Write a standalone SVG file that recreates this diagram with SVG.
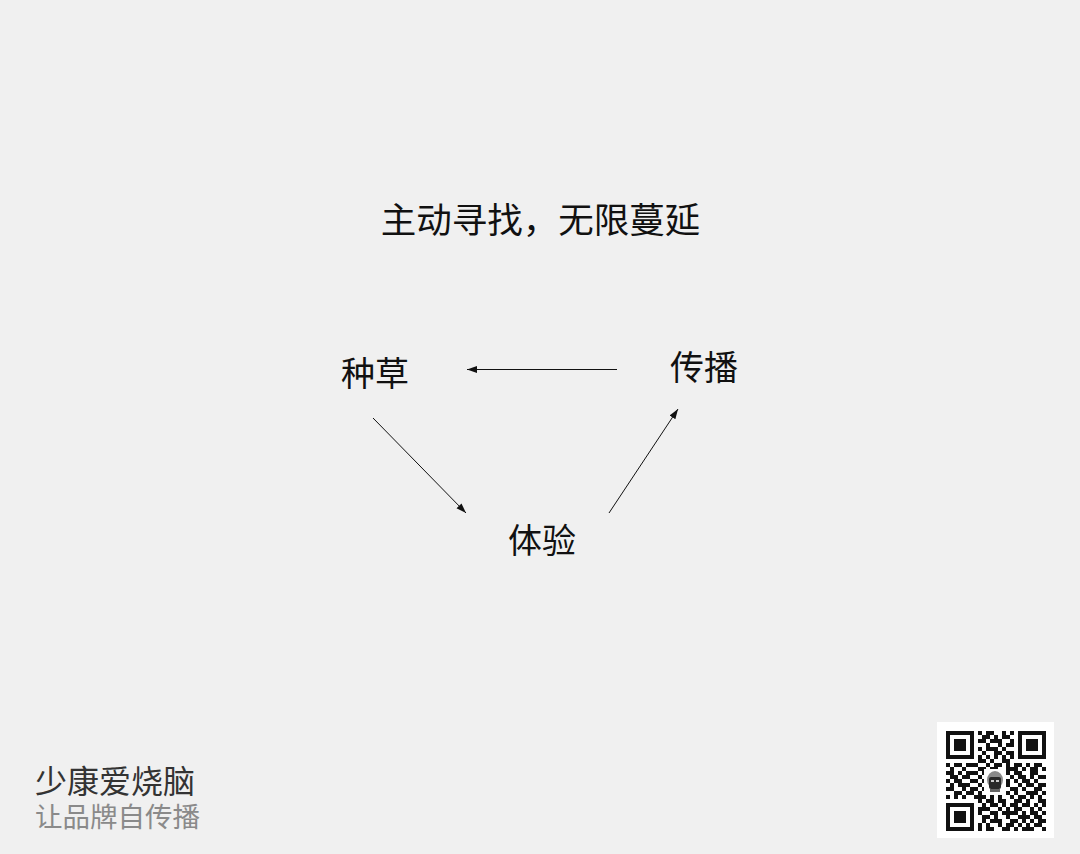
<svg xmlns="http://www.w3.org/2000/svg" width="1080" height="854" viewBox="0 0 1080 854">
<style>
.t{font-family:"Noto Sans CJK SC","Noto Sans CJK JP",sans-serif;fill:#111}
.n{font-size:34px;text-anchor:middle}
.c{stroke:#111;stroke-width:1;fill:none;marker-end:url(#ah)}
</style>
<defs>
<marker id="ah" viewBox="0 0 10 10" refX="10" refY="5" markerWidth="10" markerHeight="10" markerUnits="userSpaceOnUse" orient="auto">
<path d="M0 1.5L10 5L0 8.5z" fill="#111"/>
</marker>
</defs>
<rect width="1080" height="854" fill="#f0f0f0"/>
<g id="title"><text class="t" x="540.5" y="233" font-size="35.5" text-anchor="middle">主动寻找，无限蔓延</text></g>
<g id="zhongcao"><text class="t n" x="375" y="386">种草</text></g>
<g id="chuanbo"><text class="t n" x="704" y="380">传播</text></g>
<g id="tiyan"><text class="t n" x="542" y="553">体验</text></g>
<g id="connectors">
<line class="c" x1="617" y1="369.5" x2="467" y2="369.5"/>
<line class="c" x1="373" y1="418" x2="466" y2="513"/>
<line class="c" x1="609" y1="513" x2="678" y2="409"/>
</g>
<g id="footer">
<text x="35" y="793" font-family="'Noto Sans CJK SC',sans-serif" font-size="32" fill="#333">少康爱烧脑</text>
<text x="35" y="827" font-family="'Noto Sans CJK SC',sans-serif" font-size="27.5" fill="#8a8a8a">让品牌自传播</text>
</g>
<g id="qrcode">
<rect x="937" y="722" width="117" height="116" fill="#fff"/>
<path transform="translate(946,731) scale(4)" fill="#111" shape-rendering="crispEdges" d="
M0 0h7v1h-7zM8 0h1v1h-1zM10 0h2v1h-2zM14 0h1v1h-1zM16 0h1v1h-1zM18 0h7v1h-7z
M0 1h1v1h-1zM6 1h1v1h-1zM9 1h2v1h-2zM12 1h1v1h-1zM14 1h2v1h-2zM18 1h1v1h-1zM24 1h1v1h-1z
M0 2h1v1h-1zM2 2h3v1h-3zM6 2h1v1h-1zM8 2h2v1h-2zM11 2h3v1h-3zM16 2h1v1h-1zM18 2h1v1h-1zM20 2h3v1h-3zM24 2h1v1h-1z
M0 3h1v1h-1zM2 3h3v1h-3zM6 3h1v1h-1zM10 3h1v1h-1zM13 3h1v1h-1zM15 3h2v1h-2zM18 3h1v1h-1zM20 3h3v1h-3zM24 3h1v1h-1z
M0 4h1v1h-1zM2 4h3v1h-3zM6 4h1v1h-1zM8 4h1v1h-1zM10 4h3v1h-3zM14 4h1v1h-1zM18 4h1v1h-1zM20 4h3v1h-3zM24 4h1v1h-1z
M0 5h1v1h-1zM6 5h1v1h-1zM9 5h1v1h-1zM12 5h2v1h-2zM15 5h2v1h-2zM18 5h1v1h-1zM24 5h1v1h-1z
M0 6h7v1h-7zM8 6h1v1h-1zM10 6h1v1h-1zM12 6h1v1h-1zM14 6h1v1h-1zM16 6h1v1h-1zM18 6h7v1h-7z
M8 7h2v1h-2zM11 7h1v1h-1zM14 7h2v1h-2z
M0 8h1v1h-1zM2 8h2v1h-2zM5 8h3v1h-3zM10 8h1v1h-1zM12 8h2v1h-2zM15 8h1v1h-1zM17 8h2v1h-2zM20 8h1v1h-1zM22 8h2v1h-2z
M1 9h1v1h-1zM4 9h1v1h-1zM8 9h2v1h-2zM11 9h2v1h-2zM15 9h3v1h-3zM19 9h1v1h-1zM21 9h2v1h-2zM24 9h1v1h-1z
M0 10h2v1h-2zM3 10h1v1h-1zM5 10h3v1h-3zM9 10h1v1h-1zM12 10h1v1h-1zM14 10h2v1h-2zM17 10h2v1h-2zM21 10h2v1h-2z
M1 11h2v1h-2zM4 11h2v1h-2zM8 11h1v1h-1zM10 11h2v1h-2zM13 11h1v1h-1zM16 11h1v1h-1zM18 11h2v1h-2zM21 11h1v1h-1zM23 11h2v1h-2z
M0 12h1v1h-1zM2 12h2v1h-2zM6 12h2v1h-2zM9 12h1v1h-1zM11 12h1v1h-1zM14 12h2v1h-2zM17 12h1v1h-1zM19 12h2v1h-2zM22 12h1v1h-1z
M1 13h1v1h-1zM3 13h3v1h-3zM8 13h1v1h-1zM10 13h1v1h-1zM12 13h2v1h-2zM15 13h1v1h-1zM18 13h1v1h-1zM20 13h2v1h-2zM23 13h2v1h-2z
M0 14h2v1h-2zM4 14h1v1h-1zM6 14h2v1h-2zM9 14h2v1h-2zM14 14h1v1h-1zM16 14h2v1h-2zM19 14h1v1h-1zM22 14h2v1h-2z
M2 15h2v1h-2zM5 15h2v1h-2zM8 15h1v1h-1zM11 15h2v1h-2zM14 15h2v1h-2zM17 15h1v1h-1zM20 15h3v1h-3zM24 15h1v1h-1z
M0 16h1v1h-1zM2 16h1v1h-1zM4 16h1v1h-1zM7 16h3v1h-3zM11 16h1v1h-1zM13 16h1v1h-1zM16 16h1v1h-1zM18 16h2v1h-2zM21 16h1v1h-1zM23 16h1v1h-1z
M8 17h1v1h-1zM10 17h2v1h-2zM13 17h2v1h-2zM17 17h2v1h-2zM20 17h1v1h-1zM23 17h2v1h-2z
M0 18h7v1h-7zM9 18h1v1h-1zM11 18h2v1h-2zM14 18h1v1h-1zM16 18h2v1h-2zM19 18h2v1h-2zM22 18h1v1h-1zM24 18h1v1h-1z
M0 19h1v1h-1zM6 19h1v1h-1zM8 19h3v1h-3zM13 19h1v1h-1zM15 19h1v1h-1zM17 19h2v1h-2zM21 19h1v1h-1zM23 19h1v1h-1z
M0 20h1v1h-1zM2 20h3v1h-3zM6 20h1v1h-1zM8 20h1v1h-1zM11 20h2v1h-2zM14 20h4v1h-4zM19 20h1v1h-1zM21 20h2v1h-2zM24 20h1v1h-1z
M0 21h1v1h-1zM2 21h3v1h-3zM6 21h1v1h-1zM9 21h2v1h-2zM12 21h1v1h-1zM15 21h1v1h-1zM18 21h3v1h-3zM22 21h2v1h-2z
M0 22h1v1h-1zM2 22h3v1h-3zM6 22h1v1h-1zM9 22h1v1h-1zM11 22h3v1h-3zM16 22h2v1h-2zM19 22h1v1h-1zM21 22h1v1h-1zM23 22h2v1h-2z
M0 23h1v1h-1zM6 23h1v1h-1zM8 23h1v1h-1zM10 23h1v1h-1zM13 23h1v1h-1zM15 23h2v1h-2zM18 23h1v1h-1zM20 23h1v1h-1zM22 23h2v1h-2z
M0 24h7v1h-7zM8 24h1v1h-1zM10 24h2v1h-2zM14 24h2v1h-2zM17 24h1v1h-1zM19 24h3v1h-3zM24 24h1v1h-1z"/>
<rect x="984" y="769" width="22" height="26" fill="#fff"/>
<ellipse cx="995" cy="780" rx="8" ry="9" fill="#8a8a8a"/>
<rect x="989" y="777" width="12" height="12" rx="2" fill="#2a2a2a"/>
<rect x="991" y="780" width="3" height="2" fill="#ccc"/>
<rect x="996" y="780" width="3" height="2" fill="#ccc"/>
<rect x="990" y="789" width="10" height="3" fill="#666"/>
</g>
</svg>
